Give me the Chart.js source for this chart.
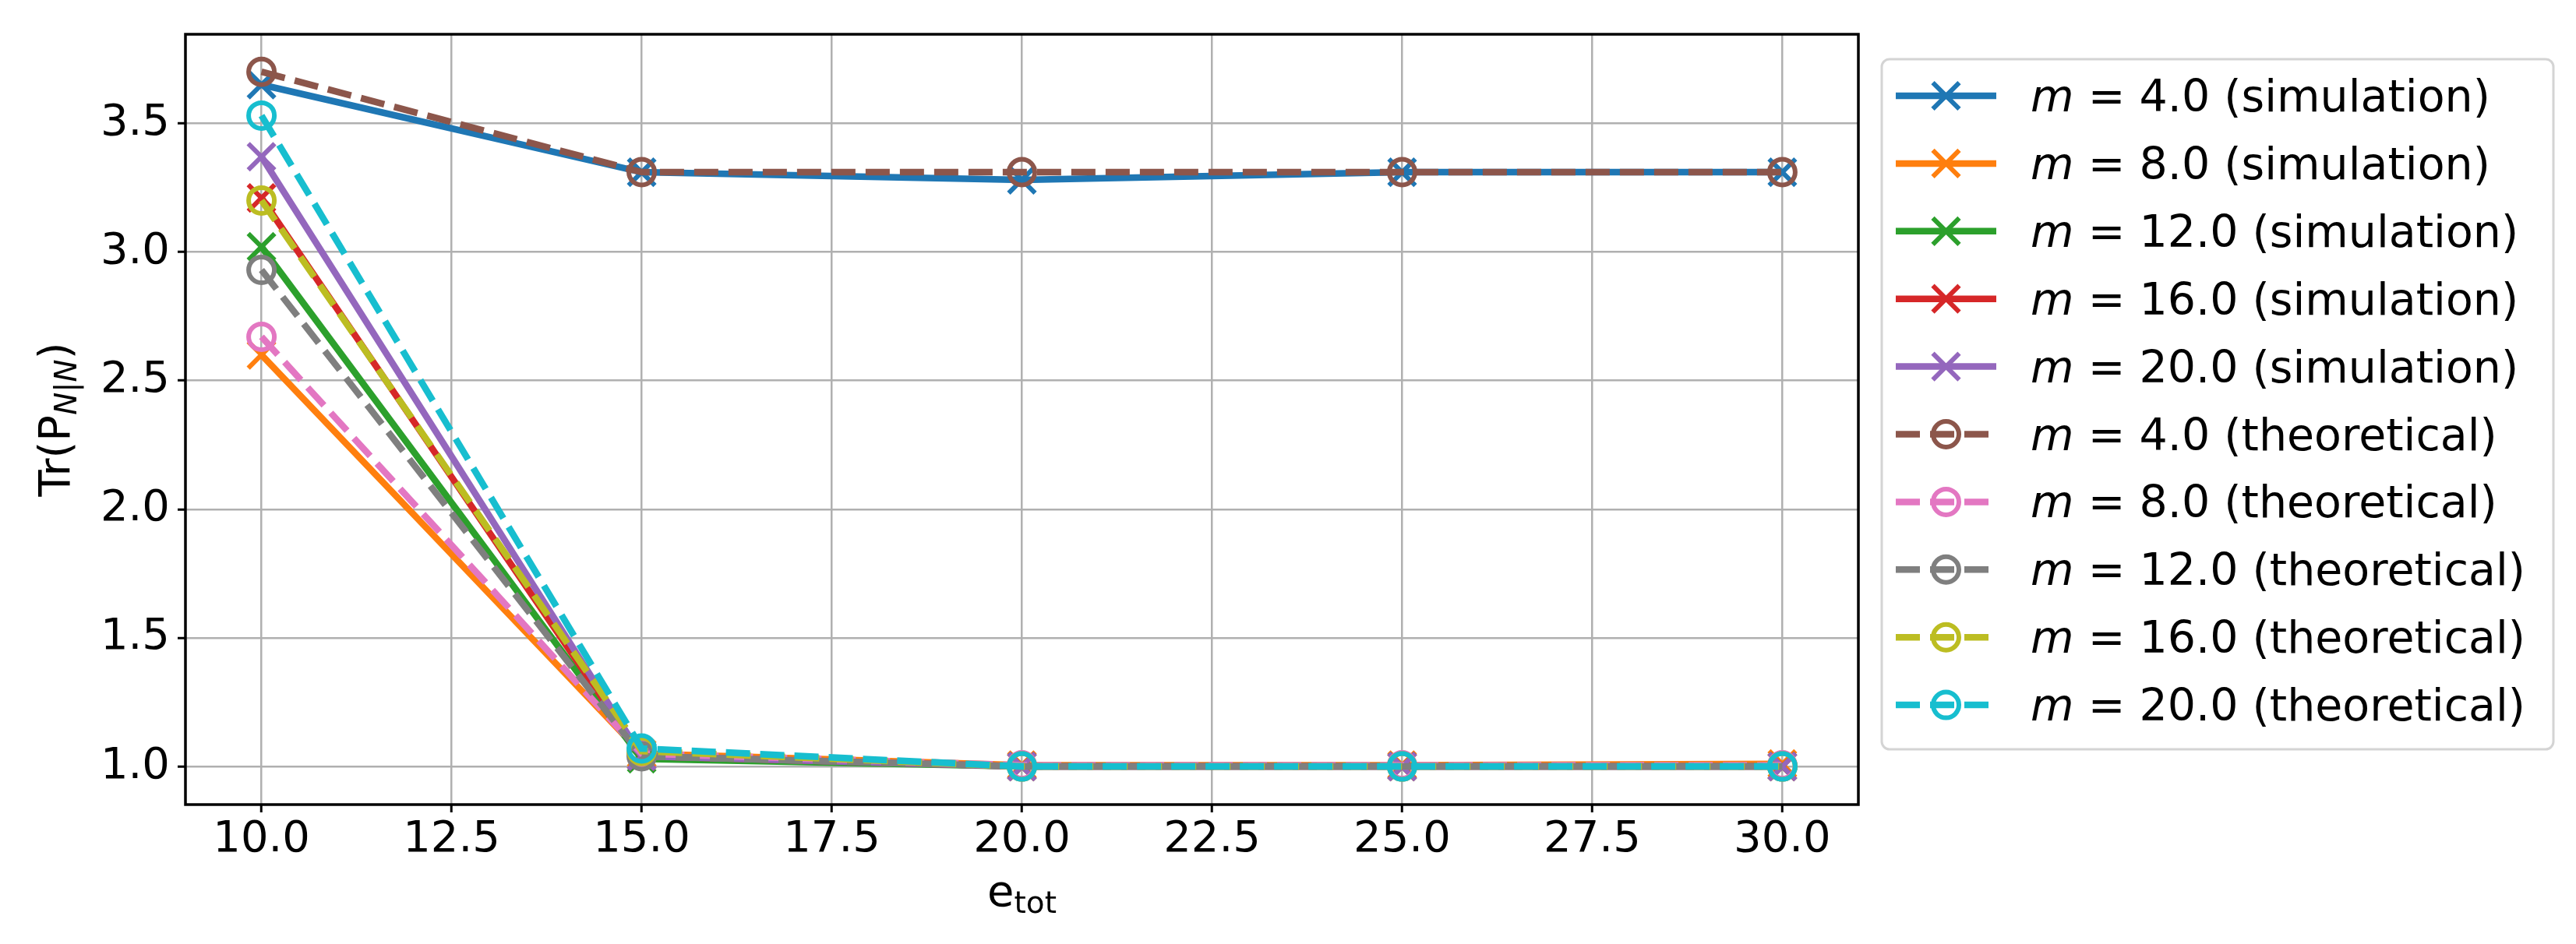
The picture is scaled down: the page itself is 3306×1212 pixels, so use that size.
<!DOCTYPE html>
<html lang="en">
  <head>
    <meta charset="UTF-8" />
    <title>Tr(P) vs e_tot</title>
    <style>
      html, body { margin: 0; padding: 0; background: #fff; }
      canvas { display: block; }
    </style>
  </head>
  <body>
    <script src="https://cdn.jsdelivr.net/npm/chart.js"></script>
    <canvas id="myChart" width="3306" height="1212"></canvas>
    <script>
      // values
      const eTot = [10, 15, 20, 25, 30];
      const masses = [4.0, 8.0, 12.0, 16.0, 20.0];

      const simM4 = [3.65, 3.31, 3.28, 3.31, 3.31];
      const simM8 = [2.6, 1.05, 1.005, 1.005, 1.01];
      const simM12 = [3.02, 1.03, 1.0, 1.0, 1.0];
      const simM16 = [3.21, 1.04, 1.0, 1.0, 1.0];
      const simM20 = [3.37, 1.04, 1.0, 1.0, 1.0];

      const theoM4 = [3.7, 3.31, 3.31, 3.31, 3.31];
      const theoM8 = [2.67, 1.05, 1.005, 1.005, 1.005];
      const theoM12 = [2.93, 1.04, 1.0, 1.0, 1.0];
      const theoM16 = [3.2, 1.06, 1.0, 1.0, 1.0];
      const theoM20 = [3.53, 1.07, 1.0, 1.0, 1.0];

      const simulation = [simM4, simM8, simM12, simM16, simM20];
      const theoretical = [theoM4, theoM8, theoM12, theoM16, theoM20];

      const xTicks = [10, 12.5, 15, 17.5, 20, 22.5, 25, 27.5, 30];
      const yTicks = [1.0, 1.5, 2.0, 2.5, 3.0, 3.5];

      const simColors = ["#1f77b4", "#ff7f0e", "#2ca02c", "#d62728", "#9467bd"];
      const theoColors = ["#8c564b", "#e377c2", "#7f7f7f", "#bcbd22", "#17becf"];

      const FONT = "DejaVu Sans";
      const FS = 56;
      const LEG_FS = 57;

      const datasets = [];
      masses.forEach((m, i) => {
        datasets.push({
          label: m.toFixed(1) + " (simulation)",
          data: eTot.map((x, j) => ({ x: x, y: simulation[i][j] })),
          borderColor: simColors[i],
          backgroundColor: simColors[i],
          borderWidth: 8.5,
          pointStyle: "crossRot",
          pointRadius: 24,
          pointBorderWidth: 6,
          pointBorderColor: simColors[i],
          pointBackgroundColor: simColors[i],
        });
      });
      masses.forEach((m, i) => {
        datasets.push({
          label: m.toFixed(1) + " (theoretical)",
          data: eTot.map((x, j) => ({ x: x, y: theoretical[i][j] })),
          borderColor: theoColors[i],
          backgroundColor: "rgba(0,0,0,0)",
          borderWidth: 8.5,
          borderDash: [31, 13],
          pointStyle: "circle",
          pointRadius: 16.5,
          pointBorderWidth: 6,
          pointBorderColor: theoColors[i],
          pointBackgroundColor: "rgba(0,0,0,0)",
        });
      });
      // matplotlib draws later lines on top
      datasets.forEach((d, i) => (d.order = datasets.length - i));

      function drawMarker(ctx, style, x, y, r, color, lw) {
        ctx.save();
        ctx.strokeStyle = color;
        ctx.lineWidth = lw;
        ctx.setLineDash([]);
        ctx.beginPath();
        if (style === "circle") {
          ctx.arc(x, y, r, 0, Math.PI * 2);
        } else {
          const d = r * Math.SQRT1_2;
          ctx.moveTo(x - d, y - d);
          ctx.lineTo(x + d, y + d);
          ctx.moveTo(x + d, y - d);
          ctx.lineTo(x - d, y + d);
        }
        ctx.stroke();
        ctx.restore();
      }

      const decor = {
        id: "decor",
        beforeDraw(chart) {
          const ctx = chart.ctx;
          ctx.save();
          ctx.fillStyle = "#fff";
          ctx.fillRect(0, 0, chart.width, chart.height);
          ctx.restore();
        },
        afterDatasetsDraw(chart) {
          const { ctx, chartArea: a } = chart;
          ctx.save();
          ctx.strokeStyle = "#000";
          ctx.lineWidth = 3.5;
          ctx.strokeRect(a.left, a.top, a.right - a.left, a.bottom - a.top);
          ctx.restore();
        },
        afterDraw(chart) {
          const { ctx, chartArea: a } = chart;
          ctx.save();
          ctx.fillStyle = "#000";
          ctx.textBaseline = "alphabetic";

          // x axis title: e_tot
          ctx.font = FS + "px '" + FONT + "'";
          const eW = ctx.measureText("e").width;
          ctx.font = Math.round(FS * 0.7) + "px '" + FONT + "'";
          const totW = ctx.measureText("tot").width;
          let x0 = (a.left + a.right) / 2 - (eW + totW) / 2;
          ctx.font = FS + "px '" + FONT + "'";
          ctx.fillText("e", x0, 1163);
          ctx.font = Math.round(FS * 0.7) + "px '" + FONT + "'";
          ctx.fillText("tot", x0 + eW, 1172);

          // y axis title: Tr(P_{N|N})
          ctx.save();
          ctx.translate(89, (a.top + a.bottom) / 2);
          ctx.rotate(-Math.PI / 2);
          ctx.font = FS + "px '" + FONT + "'";
          const w1 = ctx.measureText("Tr(P").width;
          const w3 = ctx.measureText(")").width;
          ctx.font = "italic " + Math.round(FS * 0.7) + "px '" + FONT + "'";
          const w2 = ctx.measureText("N|N").width;
          let tx = -(w1 + w2 + w3) / 2;
          ctx.font = FS + "px '" + FONT + "'";
          ctx.fillText("Tr(P", tx, 0);
          ctx.font = "italic " + Math.round(FS * 0.7) + "px '" + FONT + "'";
          ctx.fillText("N|N", tx + w1, 9);
          ctx.font = FS + "px '" + FONT + "'";
          ctx.fillText(")", tx + w1 + w2, 0);
          ctx.restore();

          // legend
          const lx = a.right + 30;
          const ly = 76;
          const lw = 862;
          const lh = 886;
          ctx.beginPath();
          ctx.roundRect(lx, ly, lw, lh, 10);
          ctx.fillStyle = "#fff";
          ctx.fill();
          ctx.strokeStyle = "#d4d4d4";
          ctx.lineWidth = 3;
          ctx.stroke();

          const rowH = 86.9;
          chart.data.datasets.forEach((ds, i) => {
            const y = 123 + i * rowH;
            const h0 = lx + 18;
            const h1 = lx + 147;
            ctx.save();
            ctx.strokeStyle = ds.borderColor;
            ctx.lineWidth = ds.borderWidth;
            ctx.setLineDash(ds.borderDash || []);
            ctx.beginPath();
            ctx.moveTo(h0, y);
            ctx.lineTo(h1, y);
            ctx.stroke();
            ctx.restore();
            drawMarker(ctx, ds.pointStyle, (h0 + h1) / 2, y, ds.pointRadius, ds.pointBorderColor, ds.pointBorderWidth);

            const base = y + 20;
            let tx2 = lx + 191;
            ctx.fillStyle = "#000";
            ctx.font = "italic " + LEG_FS + "px '" + FONT + "'";
            ctx.fillText("m", tx2, base);
            tx2 += ctx.measureText("m").width;
            ctx.font = LEG_FS + "px '" + FONT + "'";
            ctx.fillText(" = " + ds.label, tx2, base);
          });
          ctx.restore();
        },
      };

      const axisGrid = {
        color: "#b0b0b0",
        lineWidth: 2.5,
        tickColor: "#000",
        tickLength: 10,
        tickWidth: 3,
      };

      new Chart("myChart", {
        type: "line",
        data: { datasets: datasets },
        options: {
          responsive: false,
          animation: false,
          devicePixelRatio: 1,
          events: [],
          layout: { padding: { left: 0, top: 44, right: 921, bottom: 0 } },
          plugins: {
            legend: { display: false },
            tooltip: { enabled: false },
          },
          elements: { line: { tension: 0 } },
          scales: {
            x: {
              type: "linear",
              min: 9,
              max: 31,
              afterBuildTicks: (s) => {
                s.ticks = xTicks.map((v) => ({ value: v }));
              },
              afterFit: (s) => {
                s.height = 179;
              },
              ticks: {
                color: "#000",
                padding: 2,
                maxRotation: 0,
                autoSkip: false,
                font: { family: FONT, size: FS },
                callback: (v) => Number(v).toFixed(1),
              },
              grid: axisGrid,
              border: { display: false },
            },
            y: {
              type: "linear",
              min: 0.852,
              max: 3.846,
              afterBuildTicks: (s) => {
                s.ticks = yTicks.map((v) => ({ value: v }));
              },
              afterFit: (s) => {
                s.width = 238;
              },
              ticks: {
                color: "#000",
                padding: 10,
                autoSkip: false,
                font: { family: FONT, size: FS },
                callback: (v) => Number(v).toFixed(1),
              },
              grid: axisGrid,
              border: { display: false },
            },
          },
        },
        plugins: [decor],
      });
    </script>
  </body>
</html>
